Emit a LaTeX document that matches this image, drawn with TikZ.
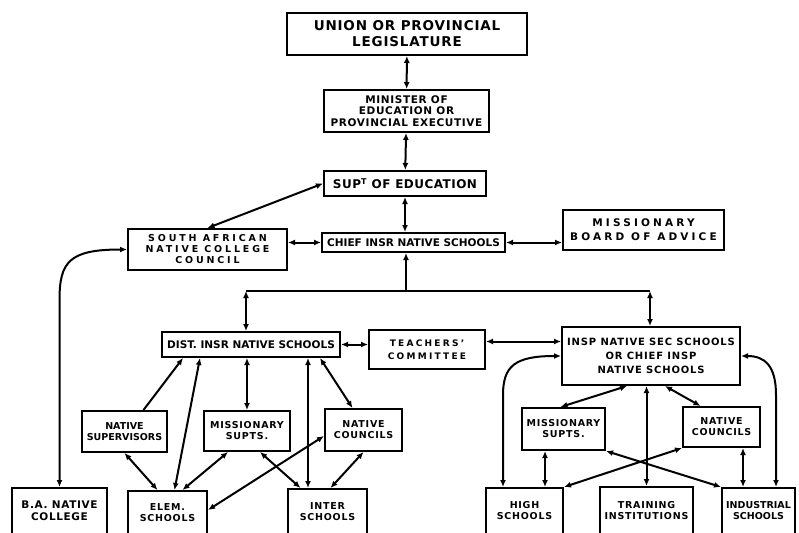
\documentclass[tikz,border=0pt]{standalone}
\usepackage{fontspec}
\setmainfont{DejaVu Sans}
\usetikzlibrary{arrows.meta,positioning,calc}
\tikzset{
  box/.style  = {rectangle, draw, line width=2pt, fill=white, inner sep=1pt,
                 align=center, font=\bfseries\fontsize{9.5}{11}\selectfont\addfontfeature{LetterSpace=8}},
  link/.style = {{Latex[length=7pt,width=6pt]}-{Latex[length=7pt,width=6pt]}, line width=2pt},
  tohead/.style = {-{Latex[length=7pt,width=6pt]}, line width=2pt},
  bare/.style = {line width=2pt}
}

\begin{document}
\begin{tikzpicture}[x=1pt,y=-1pt]
  \useasboundingbox (0,0) rectangle (799,532);
  % head of the chain
  \node[box, minimum width=240, minimum height=42, font=\bfseries\fontsize{13.5}{16}\selectfont\addfontfeature{LetterSpace=6}]
     (leg) at (407,34) {UNION OR PROVINCIAL\\LEGISLATURE};
  \node[box, minimum width=165, minimum height=42, font=\bfseries\fontsize{10.5}{11.5}\selectfont\addfontfeature{LetterSpace=6}]
     (min) at (406.5,111) {MINISTER OF\\EDUCATION OR\\PROVINCIAL EXECUTIVE};
  \node[box, minimum width=162, minimum height=25, font=\bfseries\fontsize{12}{14}\selectfont\addfontfeature{LetterSpace=4}]
     (supt) at (405,183.5) {SUP\textsuperscript{T} OF EDUCATION};
  \node[box, minimum width=183, minimum height=19, font=\bfseries\fontsize{10.5}{11}\selectfont]
     (chief) at (413.5,242.5) {CHIEF INSR NATIVE SCHOOLS};
  \node[box, minimum width=161, minimum height=40, font=\bfseries\fontsize{10.5}{14}\selectfont\addfontfeature{LetterSpace=30}]
     (board) at (643.5,230) {MISSIONARY\\BOARD OF ADVICE};
  \node[box, minimum width=159, minimum height=41, font=\bfseries\fontsize{9.5}{11}\selectfont\addfontfeature{LetterSpace=30}]
     (council) at (207.5,249.5) {SOUTH AFRICAN\\NATIVE COLLEGE\\COUNCIL};
  % middle row
  \node[box, minimum width=178, minimum height=25, font=\bfseries\fontsize{10.5}{11}\selectfont]
     (dist) at (251,344.5) {DIST. INSR NATIVE SCHOOLS};
  \node[box, minimum width=116, minimum height=39, font=\bfseries\fontsize{9}{12.5}\selectfont\addfontfeature{LetterSpace=25}]
     (teach) at (427,349.5) {TEACHERS'\\COMMITTEE};
  \node[box, minimum width=178, minimum height=58, font=\bfseries\fontsize{10}{14}\selectfont\addfontfeature{LetterSpace=8}]
     (insp) at (651,356) {INSP NATIVE SEC SCHOOLS\\OR CHIEF INSP\\NATIVE SCHOOLS};
  % left branch
  \node[box, minimum width=85, minimum height=41, font=\bfseries\fontsize{9.5}{11}\selectfont]
     (nsup) at (124.5,431.5) {NATIVE\\SUPERVISORS};
  \node[box, minimum width=86, minimum height=40] (msl) at (247,431) {MISSIONARY\\SUPTS.};
  \node[box, minimum width=77, minimum height=42] (ncl) at (363.5,430) {NATIVE\\COUNCILS};
  \node[box, minimum width=95, minimum height=46, font=\bfseries\fontsize{10.5}{12}\selectfont\addfontfeature{LetterSpace=6}]
     (ba) at (59.5,511) {B.A. NATIVE\\COLLEGE};
  \node[box, minimum width=79, minimum height=44] (elem) at (167.5,513) {ELEM.\\SCHOOLS};
  \node[box, minimum width=79, minimum height=46] (inter) at (327.5,512) {INTER\\SCHOOLS};
  % right branch
  \node[box, minimum width=83, minimum height=42] (msr) at (563.5,429) {MISSIONARY\\SUPTS.};
  \node[box, minimum width=77, minimum height=40] (ncr) at (721.5,427) {NATIVE\\COUNCILS};
  \node[box, minimum width=77, minimum height=46] (high) at (524.5,511) {HIGH\\SCHOOLS};
  \node[box, minimum width=93, minimum height=48] (train) at (646.5,511) {TRAINING\\INSTITUTIONS};
  \node[box, minimum width=73, minimum height=46, font=\bfseries\fontsize{9.5}{11}\selectfont]
     (ind) at (758.5,511) {INDUSTRIAL\\SCHOOLS};

  % top spine
  \draw[link] (leg) -- (min);
  \draw[link] (min) -- (supt);
  \draw[link] (supt.south) -- (supt.south |- chief.north);
  \draw[link] (supt.west) -- (council.north);
  \draw[link] (council.east |- chief.west) -- (chief.west);
  \draw[link] (chief.east) -- (board.west |- chief.east);
  \draw[link] (council.west) .. controls +(-58,0) and +(0,-38) .. (59.5,300) -- (ba.north);

  % bus down to the two inspectors
  \coordinate (bmid) at (406,291);
  \coordinate (bl) at (246,291);
  \coordinate (br) at (650,291);
  \draw[tohead] (bmid) -- (bmid |- chief.south);
  \draw[bare] (bl) -- (br);
  \draw[link] (bl) -- (bl |- dist.north);
  \draw[link] (br) -- (br |- insp.north);
  \draw[link] (dist.east) -- (teach.west |- dist.east);
  \draw[link] ([yshift=8pt]teach.east) -- ([yshift=8pt]teach.east -| insp.west);

  % left branch links
  \draw[tohead] ([xshift=19pt]nsup.north) -- ([xshift=-68pt]dist.south);
  \draw[link] ([xshift=-51pt]dist.south) -- ([xshift=7pt]elem.north);
  \draw[link] (msl.north |- dist.south) -- (msl.north);
  \draw[link] ([xshift=57pt]dist.south) -- ([xshift=-19.5pt]inter.north);
  \draw[link] ([xshift=69pt]dist.south) -- ([xshift=-11pt]ncl.north);
  \draw[link] (nsup.south) -- ([xshift=-10pt]elem.north);
  \draw[link] ([xshift=-19pt]msl.south) -- ([xshift=15pt]elem.north);
  \draw[link] ([xshift=13pt]msl.south) -- ([xshift=-27pt]inter.north);
  \draw[link] ([yshift=-6pt]ncl.west) -- ([yshift=3pt]elem.east);
  \draw[link] (ncl.south) -- ([xshift=3pt]inter.north);

  % right branch links
  \coordinate (hk) at (503,395);
  \coordinate (ik) at (776,395);
  \draw[link] (insp.west) .. controls (515,356) and (503,366) .. (hk) -- (hk |- high.north);
  \draw[link] (insp.east) .. controls (765,356) and (776,366) .. (ik) -- (ik |- ind.north);
  \draw[link] ([xshift=-24pt]insp.south) -- ([xshift=-3pt]msr.north);
  \draw[link] (train.north |- insp.south) -- (train.north);
  \draw[link] ([xshift=14pt]insp.south) -- ([xshift=-21pt]ncr.north);
  \draw[link] ([xshift=-18.5pt]msr.south) -- ([xshift=-18.5pt]msr.south |- high.north);
  \draw[link] (msr.south east) -- (ind.north west);
  \draw[link] (ncr.south west) -- (high.north east);
  \draw[link] ([xshift=21.5pt]ncr.south) -- ([xshift=21.5pt]ncr.south |- ind.north);
\end{tikzpicture}
\end{document}
